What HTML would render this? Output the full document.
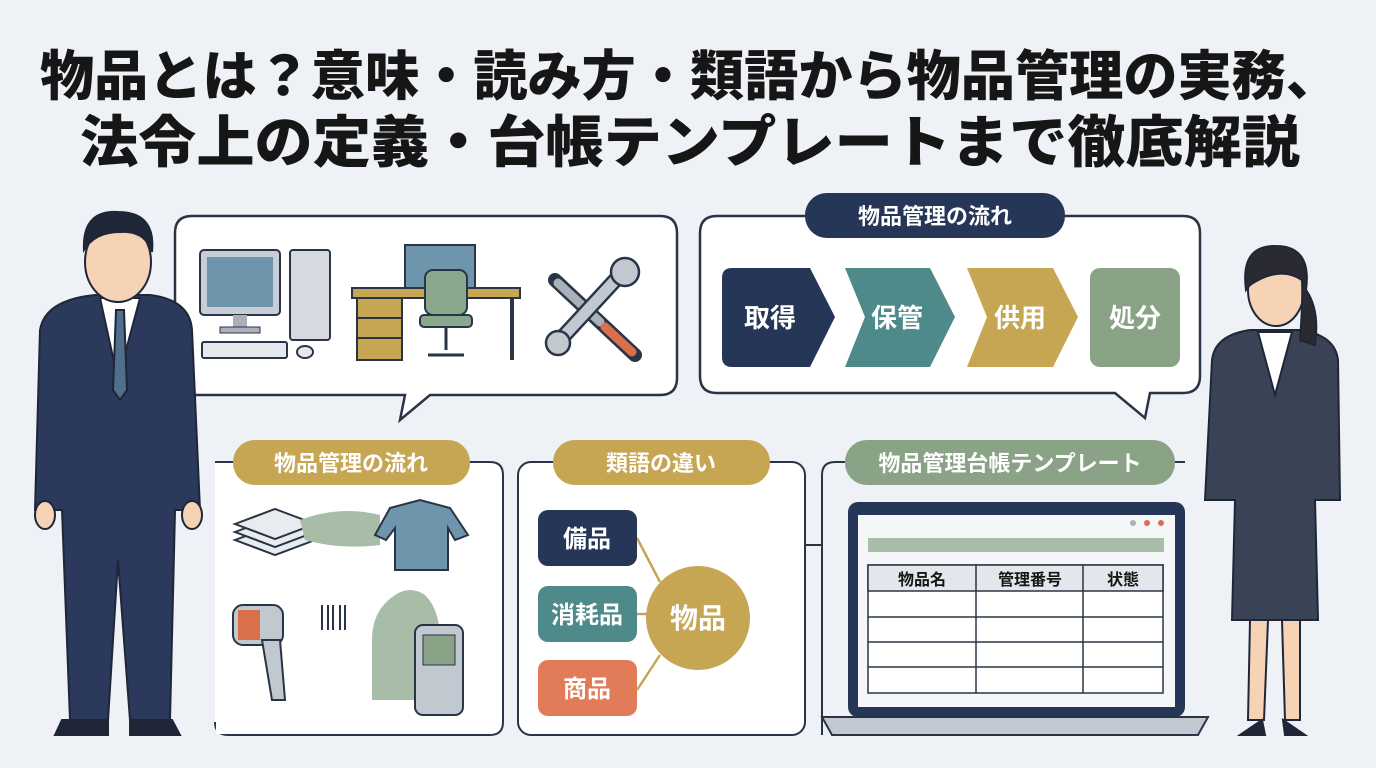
<!DOCTYPE html>
<html><head><meta charset="utf-8"><style>
html,body{margin:0;padding:0;background:#eef1f5;}
svg{display:block;font-family:"Liberation Sans","Noto Sans CJK JP",sans-serif;}
</style></head><body>
<svg width="1376" height="768" viewBox="0 0 1376 768" xmlns="http://www.w3.org/2000/svg">
<rect width="1376" height="768" fill="#eef1f5"/>
<!-- Title -->
<text x="40" y="95" font-size="54" font-weight="900" fill="#161616" textLength="1300" lengthAdjust="spacingAndGlyphs">物品とは？意味・読み方・類語から物品管理の実務、</text>
<text x="80" y="162" font-size="56" font-weight="900" fill="#161616" textLength="1220" lengthAdjust="spacingAndGlyphs">法令上の定義・台帳テンプレートまで徹底解説</text>

<!-- Top-left speech box -->
<path d="M192 216 H660 Q677 216 677 233 V378 Q677 395 660 395 H430 L400 420 L405 395 H192 Q175 395 175 378 V233 Q175 216 192 216 Z" fill="#fff" stroke="#2a3447" stroke-width="2.5"/>
<!-- computer -->
<rect x="200" y="250" width="80" height="65" rx="4" fill="#c9ced6" stroke="#2a3447" stroke-width="2"/>
<rect x="207" y="257" width="66" height="50" fill="#6f95ad"/>
<rect x="233" y="315" width="14" height="12" fill="#aab1bb"/><rect x="220" y="327" width="40" height="6" fill="#aab1bb" stroke="#2a3447"/>
<rect x="290" y="250" width="40" height="90" rx="3" fill="#d6dae0" stroke="#2a3447" stroke-width="2"/>
<rect x="202" y="342" width="85" height="16" rx="2" fill="#e5e8ec" stroke="#2a3447" stroke-width="2"/>
<ellipse cx="305" cy="352" rx="8" ry="6" fill="#e5e8ec" stroke="#2a3447" stroke-width="2"/>
<!-- desk -->
<rect x="405" y="245" width="70" height="45" fill="#6f95ad" stroke="#2a3447" stroke-width="2"/>
<rect x="352" y="288" width="168" height="10" fill="#c7a653" stroke="#2a3447" stroke-width="2"/>
<rect x="357" y="298" width="45" height="62" fill="#c7a653" stroke="#2a3447" stroke-width="2"/>
<line x1="357" y1="318" x2="402" y2="318" stroke="#2a3447" stroke-width="2"/><line x1="357" y1="338" x2="402" y2="338" stroke="#2a3447" stroke-width="2"/>
<line x1="512" y1="298" x2="512" y2="360" stroke="#2a3447" stroke-width="4"/>
<rect x="425" y="270" width="42" height="45" rx="8" fill="#8aa88e" stroke="#2a3447" stroke-width="2"/>
<rect x="420" y="315" width="52" height="12" rx="4" fill="#8aa88e" stroke="#2a3447" stroke-width="2"/>
<line x1="446" y1="327" x2="446" y2="350" stroke="#2a3447" stroke-width="3"/><line x1="428" y1="355" x2="464" y2="355" stroke="#2a3447" stroke-width="3"/>
<!-- tools -->
<line x1="555" y1="280" x2="635" y2="355" stroke="#2a3447" stroke-width="14" stroke-linecap="round"/>
<line x1="558" y1="283" x2="600" y2="322" stroke="#aab1bb" stroke-width="9" stroke-linecap="round"/>
<line x1="605" y1="327" x2="632" y2="352" stroke="#d9704a" stroke-width="9" stroke-linecap="round"/>
<line x1="620" y1="275" x2="560" y2="340" stroke="#2a3447" stroke-width="16" stroke-linecap="round"/>
<line x1="620" y1="275" x2="560" y2="340" stroke="#c2c8d0" stroke-width="11" stroke-linecap="round"/>
<circle cx="625" cy="272" r="14" fill="#c2c8d0" stroke="#2a3447" stroke-width="2.5"/>
<circle cx="558" cy="343" r="12" fill="#c2c8d0" stroke="#2a3447" stroke-width="2.5"/>

<!-- Top-right speech box -->
<path d="M717 216 H1183 Q1200 216 1200 233 V376 Q1200 393 1183 393 H1150 L1145 418 L1115 393 H717 Q700 393 700 376 V233 Q700 216 717 216 Z" fill="#fff" stroke="#2a3447" stroke-width="2.5"/>
<rect x="805" y="193" width="260" height="45" rx="22" fill="#253656"/>
<text x="935" y="224" font-size="22" font-weight="700" fill="#fff" text-anchor="middle">物品管理の流れ</text>
<path d="M732 268 H810 L835 317 L810 367 H732 Q722 367 722 357 V278 Q722 268 732 268 Z" fill="#253656"/>
<text x="770" y="327" font-size="26" font-weight="700" fill="#fff" text-anchor="middle">取得</text>
<path d="M845 268 H930 L955 317 L930 367 H845 L865 317 Z" fill="#4f8a8b"/>
<text x="897" y="327" font-size="26" font-weight="700" fill="#fff" text-anchor="middle">保管</text>
<path d="M967 268 H1053 L1078 317 L1053 367 H967 L987 317 Z" fill="#c7a653"/>
<text x="1020" y="327" font-size="26" font-weight="700" fill="#fff" text-anchor="middle">供用</text>
<rect x="1090" y="268" width="90" height="99" rx="10" fill="#8aa386"/>
<text x="1135" y="327" font-size="26" font-weight="700" fill="#fff" text-anchor="middle">処分</text>

<!-- Bottom panel 1 -->
<path d="M215 462 H490 Q503 462 503 475 V722 Q503 735 490 735 H228 Q215 735 215 722" fill="#fff" stroke="#2a3447" stroke-width="2"/>
<rect x="216" y="470" width="10" height="264" fill="#fff"/>
<rect x="233" y="440" width="237" height="45" rx="22" fill="#c7a653"/>
<text x="351" y="471" font-size="22" font-weight="700" fill="#fff" text-anchor="middle">物品管理の流れ</text>
<g stroke="#2a3447" stroke-width="2" fill="#e9ecef">
<path d="M235 540 L275 525 L315 540 L275 555 Z"/><path d="M235 532 L275 517 L315 532 L275 547 Z"/><path d="M235 524 L275 509 L315 524 L275 539 Z"/>
</g>
<path d="M300 520 Q340 505 380 515 L380 545 Q340 550 305 540 Z" fill="#a8bda8"/>
<path d="M390 508 L420 500 L450 508 L468 535 L455 540 L448 528 L448 570 L395 570 L395 528 L386 540 L375 535 Z" fill="#6f95ad" stroke="#2a3447" stroke-width="2"/>
<rect x="233" y="605" width="50" height="40" rx="10" fill="#c2c8d0" stroke="#2a3447" stroke-width="2"/>
<rect x="238" y="610" width="22" height="30" fill="#d9704a"/>
<path d="M262 640 L280 640 L285 700 L272 700 Z" fill="#c2c8d0" stroke="#2a3447" stroke-width="2"/>
<g stroke="#2a3447" stroke-width="2"><line x1="322" y1="605" x2="322" y2="630"/><line x1="328" y1="605" x2="328" y2="630"/><line x1="333" y1="605" x2="333" y2="630"/><line x1="340" y1="605" x2="340" y2="630"/><line x1="345" y1="605" x2="345" y2="630"/></g>
<path d="M372 700 V640 Q372 610 395 595 Q410 585 425 595 Q440 610 440 640 V700 Z" fill="#a8bda8"/>
<rect x="415" y="625" width="48" height="90" rx="8" fill="#c2c8d0" stroke="#2a3447" stroke-width="2"/>
<rect x="423" y="635" width="32" height="30" fill="#8aa386" stroke="#2a3447"/>

<!-- Bottom panel 2 -->
<rect x="518" y="462" width="287" height="273" rx="13" fill="#fff" stroke="#2a3447" stroke-width="2"/>
<rect x="553" y="440" width="217" height="45" rx="22" fill="#c7a653"/>
<text x="661" y="471" font-size="22" font-weight="700" fill="#fff" text-anchor="middle">類語の違い</text>
<g stroke="#c7a653" stroke-width="2.5" fill="none"><line x1="637" y1="538" x2="660" y2="582"/><line x1="637" y1="614" x2="650" y2="614"/><line x1="637" y1="690" x2="660" y2="655"/></g>
<rect x="538" y="510" width="99" height="56" rx="10" fill="#253656"/><text x="587" y="547" font-size="24" font-weight="700" fill="#fff" text-anchor="middle">備品</text>
<rect x="538" y="586" width="99" height="56" rx="10" fill="#4f8a8b"/><text x="587" y="623" font-size="24" font-weight="700" fill="#fff" text-anchor="middle">消耗品</text>
<rect x="538" y="660" width="99" height="56" rx="10" fill="#e27b58"/><text x="587" y="697" font-size="24" font-weight="700" fill="#fff" text-anchor="middle">商品</text>
<circle cx="698" cy="618" r="52" fill="#c7a653"/><text x="698" y="628" font-size="28" font-weight="700" fill="#fff" text-anchor="middle">物品</text>

<!-- Bottom panel 3 -->
<path d="M822 735 V475 Q822 462 835 462 H1185" fill="none" stroke="#2a3447" stroke-width="2"/>
<path d="M805 545 H822" stroke="#2a3447" stroke-width="2"/>
<rect x="845" y="440" width="330" height="45" rx="22" fill="#8aa386"/>
<text x="1010" y="471" font-size="22" font-weight="700" fill="#fff" text-anchor="middle">物品管理台帳テンプレート</text>
<rect x="848" y="502" width="337" height="215" rx="10" fill="#253656"/>
<rect x="858" y="515" width="317" height="192" fill="#f4f6f8"/>
<circle cx="1133" cy="523" r="3" fill="#aab1bb"/><circle cx="1147" cy="523" r="3" fill="#d9704a"/><circle cx="1161" cy="523" r="3" fill="#d9704a"/>
<rect x="868" y="538" width="296" height="14" fill="#a8bda8"/>
<g stroke="#2a3447" stroke-width="1.5" fill="none">
<rect x="868" y="565" width="295" height="128" fill="#fff"/>
<rect x="868" y="565" width="295" height="26" fill="#e3e6ea"/>
<line x1="868" y1="617" x2="1163" y2="617"/><line x1="868" y1="642" x2="1163" y2="642"/><line x1="868" y1="667" x2="1163" y2="667"/>
<line x1="976" y1="565" x2="976" y2="693"/><line x1="1083" y1="565" x2="1083" y2="693"/>
</g>
<text x="922" y="585" font-size="16" font-weight="700" fill="#161616" text-anchor="middle">物品名</text>
<text x="1030" y="585" font-size="16" font-weight="700" fill="#161616" text-anchor="middle">管理番号</text>
<text x="1123" y="585" font-size="16" font-weight="700" fill="#161616" text-anchor="middle">状態</text>
<path d="M822 717 H1208 L1198 735 H832 Z" fill="#c2c8d0" stroke="#2a3447" stroke-width="2"/>

<!-- Man -->
<g stroke="#1e2638" stroke-width="2">
<path d="M40 330 Q45 300 95 295 H150 Q190 300 192 330 L200 510 H175 L170 720 H130 L118 560 L108 720 H70 L62 510 H35 Z" fill="#2b3a5c"/>
<path d="M100 298 L118 380 L140 298 Z" fill="#fff"/>
<path d="M116 310 L124 310 L127 390 L120 400 L113 390 Z" fill="#4f6f8d"/>
<ellipse cx="118" cy="262" rx="33" ry="40" fill="#f6d3b5"/>
<path d="M84 250 Q82 210 118 212 Q156 212 152 252 Q145 230 120 232 Q95 232 84 250 Z" fill="#1e2638"/>
<path d="M62 720 H108 V735 H55 Z M130 720 H172 L180 735 H130 Z" fill="#1e2638"/>
<ellipse cx="45" cy="515" rx="10" ry="14" fill="#f6d3b5"/><ellipse cx="192" cy="515" rx="10" ry="14" fill="#f6d3b5"/>
</g>
<!-- Woman -->
<g stroke="#1e2638" stroke-width="2">
<path d="M1212 360 Q1215 335 1250 330 H1300 Q1335 335 1338 360 L1340 500 H1315 L1318 620 H1232 L1235 500 H1205 Z" fill="#3a4256"/>
<path d="M1258 332 L1275 395 L1292 332 Z" fill="#fff"/>
<path d="M1250 620 L1248 720 H1264 L1268 620 Z M1282 620 L1285 720 H1300 L1300 620 Z" fill="#f6d3b5"/>
<path d="M1240 735 L1262 720 L1265 735 Z M1283 720 L1305 735 H1285 Z" fill="#1e2638"/>
<ellipse cx="1276" cy="290" rx="28" ry="36" fill="#f6d3b5"/>
<path d="M1246 290 Q1240 245 1276 246 Q1312 246 1306 290 Q1320 310 1315 345 L1300 340 Q1303 300 1302 280 Q1280 265 1250 285 Z" fill="#2a2a33"/>
</g>
</svg>
</body></html>
